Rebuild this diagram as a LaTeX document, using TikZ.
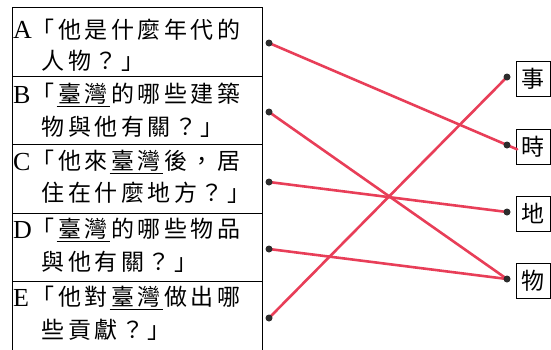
\documentclass[tikz,border=0pt]{standalone}
\usepackage{fontspec}
\setmainfont{Liberation Serif}
\newfontfamily\cjk{Noto Sans CJK TC}
\makeatletter
\newcommand\spc[1]{\@tfor\ch:=#1\do{\makebox[26.5pt][c]{\ch}}}
\makeatother
\definecolor{linkred}{RGB}{232,62,88}
\definecolor{dotgray}{RGB}{45,45,45}
\tikzset{
  letterlbl/.style={anchor=west, inner sep=0pt, font=\fontsize{26}{26}\selectfont},
  cjktext/.style={anchor=west, inner sep=0pt, font=\cjk\fontsize{23}{23}\selectfont},
  answerbox/.style={draw, line width=0.9pt, minimum width=34pt, minimum height=35pt, inner sep=0pt, font=\cjk\fontsize{23}{23}\selectfont},
  pin/.style={circle, fill=dotgray, inner sep=0pt, minimum size=7pt},
  link/.style={draw=linkred, line width=2.6pt, line cap=round},
  frame/.style={line width=1pt}
}
\begin{document}
\begin{tikzpicture}[x=1pt,y=-1pt]
\useasboundingbox (0,0) rectangle (551,349);
% table frame
\draw[frame] (12,350) -- (12,7) -- (262,7) -- (262,350);
\foreach \yy in {76,144,213,281} \draw[frame] (12,\yy) -- (262,\yy);
% row A
\node[letterlbl] (la) at (13,30) {A};
\node[cjktext] (a1) at (30,30) {\spc{「他是什麼年代的}};
\node[cjktext] (a2) at (40,61) {\spc{人物？」}};
% row B
\node[letterlbl] (lb) at (13,95) {B};
\node[cjktext] (b1) at (30,95) {\spc{「}\underline{\spc{臺灣}}\spc{的哪些建築}};
\node[cjktext] (b2) at (40,127) {\spc{物與他有關？」}};
% row C
\node[letterlbl] (lc) at (13,162) {C};
\node[cjktext] (c1) at (30,162) {\spc{「他來}\underline{\spc{臺灣}}\spc{後，居}};
\node[cjktext] (c2) at (40,193) {\spc{住在什麼地方？」}};
% row D
\node[letterlbl] (ld) at (13,230) {D};
\node[cjktext] (d1) at (30,230) {\spc{「}\underline{\spc{臺灣}}\spc{的哪些物品}};
\node[cjktext] (d2) at (40,262) {\spc{與他有關？」}};
% row E
\node[letterlbl] (le) at (13,298) {E};
\node[cjktext] (e1) at (30,298) {\spc{「他對}\underline{\spc{臺灣}}\spc{做出哪}};
\node[cjktext] (e2) at (40,330) {\spc{些貢獻？」}};
% answer boxes
\node[answerbox] (shi) at (533,78.5) {事};
\node[answerbox] (shi2) at (533,146.5) {時};
\node[answerbox] (di) at (533,213.5) {地};
\node[answerbox] (wu) at (533,280.5) {物};
% dots
\coordinate (pa) at (269,43);
\coordinate (pb) at (269,112);
\coordinate (pc) at (269,182);
\coordinate (pd) at (269,249);
\coordinate (pe) at (269,318);
\coordinate (qs) at (507,77);
\coordinate (qt) at (507,145);
\coordinate (qd) at (507,212);
\coordinate (qw) at (507,279);
% links
\draw[link, shorten >=-11pt] (pa) -- (qt);
\draw[link] (pb) -- (qw);
\draw[link] (pc) -- (qd);
\draw[link] (pd) -- (qw);
\draw[link] (pe) -- (qs);
% pins on top
\foreach \p in {pa,pb,pc,pd,pe,qs,qt,qd,qw} \node[pin] at (\p) {};
\end{tikzpicture}
\end{document}
